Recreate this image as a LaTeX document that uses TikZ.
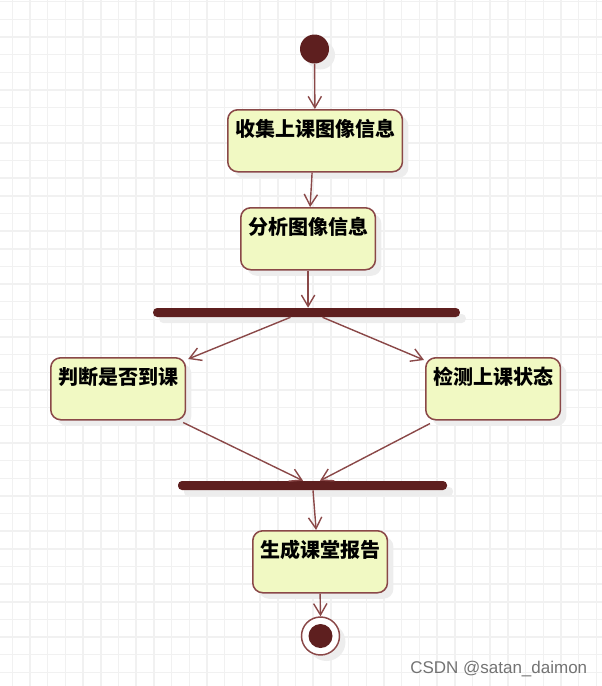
\documentclass[tikz,border=0pt]{standalone}
\usepackage{fontspec}
\setmainfont{Liberation Sans}
\newfontfamily\cjk{Noto Sans CJK SC}
\usetikzlibrary{arrows.meta, calc, shadows}

\definecolor{actfill}{HTML}{F1F9C3}
\definecolor{actline}{HTML}{8A4848}
\definecolor{bardark}{HTML}{5E1F1F}
\definecolor{gridgray}{HTML}{F1F1F1}

\begin{document}
\begin{tikzpicture}[x=0.75pt, y=-0.75pt]
    \tikzstyle{gridline}=[draw=gridgray, line width=1.1pt]
    \tikzstyle{shade}=[general shadow={fill=black!7, shadow xshift=4.5pt, shadow yshift=-4.5pt}]
    \tikzstyle{activity}=[shade, draw=actline, fill=actfill, line width=1.15pt, rounded corners=7.5pt, anchor=north west, align=left, inner xsep=5.5pt, inner ysep=0pt, text height=20.25pt, text depth=26.25pt, font=\cjk\bfseries\fontsize{15pt}{15pt}\selectfont]
    \tikzstyle{bar}=[shade, fill=bardark, inner sep=0pt, minimum height=6.75pt, rounded corners=3pt]
    \tikzstyle{flow}=[draw=actline, line width=1.05pt, -{Straight Barb[length=8.5pt, width=10pt]}]

    \useasboundingbox (0,0) rectangle (602,686);

    % background grid
    \foreach \k in {0,...,33}
        \draw[gridline] ({12.3+17.7*\k},0) -- ({12.3+17.7*\k},686);
    \foreach \k in {0,...,38}
        \draw[gridline] (0,{1.7+17.65*\k}) -- (602,{1.7+17.65*\k});

    \node[shade, circle, fill=bardark, inner sep=0pt, minimum size=21.75pt] (start) at (314.5,49) {};

    \node[activity] (collect) at (227,109) {收集上课图像信息};
    \node[activity] (analyze) at (240,207) {分析图像信息};

    \node[bar, minimum width=230pt] (fork) at (306.5,312.5) {};

    \node[activity] (judge) at (50,357) {判断是否到课};
    \node[activity] (detect) at (425,357) {检测上课状态};

    \node[bar, minimum width=201.75pt] (join) at (312.5,485.5) {};

    \node[activity] (report) at (252,530) {生成课堂报告};

    \node[shade, circle, draw=actline, line width=1.1pt, fill=white, inner sep=0pt, minimum size=28.5pt] (stop) at (320.5,636) {};
    \node[circle, fill=bardark, inner sep=0pt, minimum size=18pt] (stopdot) at (stop) {};

    \draw[flow] (start) -- (collect);
    \draw[flow] ($(collect.south)+(-3,0)$) -- ($(analyze.north)+(2,0)$);
    \draw[flow] (analyze.south) -- (analyze.south |- fork.north);
    \draw[flow] ($(fork.south)+(-16,0)$) -- ($(judge.north east)+(2,2)$);
    \draw[flow] ($(fork.south)+(16,0)$) -- ($(detect.north west)+(-1,3)$);
    \draw[flow] ($(judge.south east)+(-3,2)$) -- ($(join.north)+(-9.5,0)$);
    \draw[flow] ($(detect.south west)+(5,3)$) -- ($(join.north)+(7.5,0)$);
    \draw[flow] ($(join.south)+(0.5,0)$) -- ($(report.north)+(-4,0)$);
    \draw[flow] (report.south) -- (stop.north);

    \node[text=black!55, font=\fontsize{12.75pt}{14pt}\selectfont, anchor=base west, inner sep=0pt] (mark) at (410,673.5) {CSDN @satan\_daimon};
\end{tikzpicture}
\end{document}
